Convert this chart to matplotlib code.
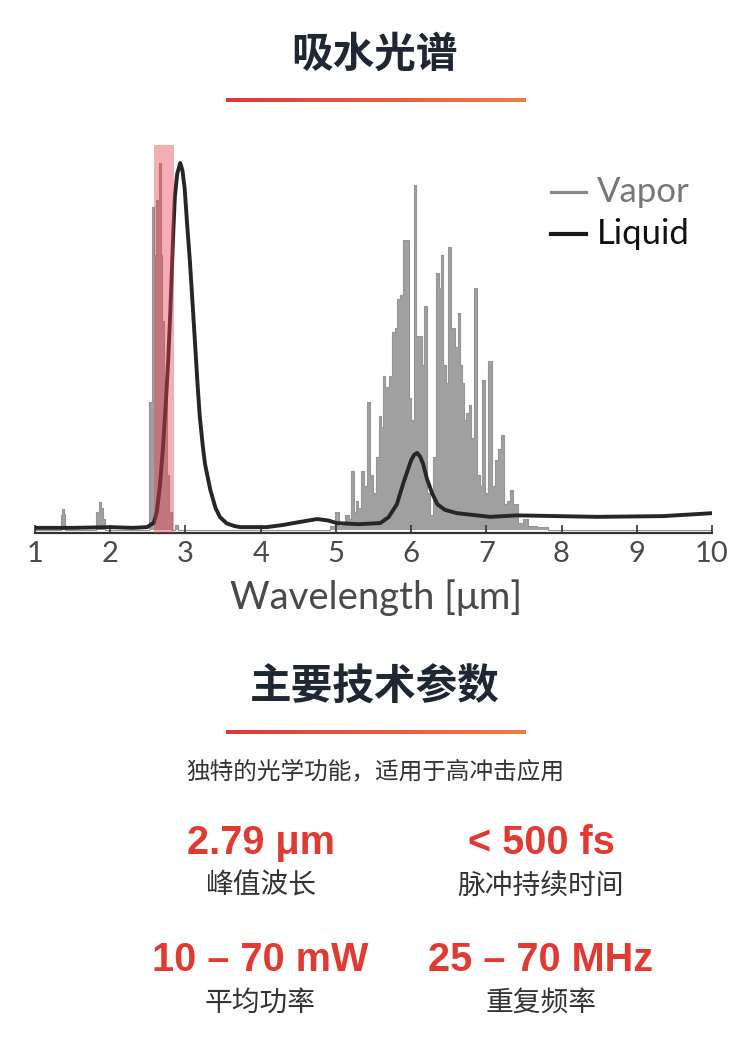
import numpy as np
import matplotlib
matplotlib.use("Agg")
import matplotlib.pyplot as plt
from matplotlib.colors import LinearSegmentedColormap

# liquid water absorption (normalised)
liquid_wl = [1.0, 1.5, 2.0, 2.3, 2.49, 2.58, 2.62, 2.66, 2.70, 2.74, 2.77, 2.80, 2.82,
             2.84, 2.86, 2.89, 2.93, 2.96, 2.99, 3.02, 3.06, 3.10, 3.13, 3.16, 3.19,
             3.23, 3.26, 3.30, 3.33, 3.40, 3.46, 3.55, 3.65, 3.73, 4.08, 4.30, 4.52,
             4.75, 4.90, 5.01, 5.30, 5.59, 5.70, 5.81, 5.90, 5.95, 6.00, 6.04, 6.08,
             6.12, 6.16, 6.21, 6.28, 6.35, 6.45, 6.61, 7.05, 7.41, 8.47, 9.35, 10.0]
liquid_abs = [0.006, 0.006, 0.008, 0.006, 0.008, 0.02, 0.05, 0.12, 0.22, 0.35, 0.46, 0.60, 0.71,
              0.82, 0.91, 0.97, 1.0, 0.98, 0.93, 0.84, 0.73, 0.60, 0.50, 0.40, 0.31,
              0.23, 0.18, 0.14, 0.11, 0.06, 0.035, 0.018, 0.011, 0.008, 0.008, 0.014, 0.022,
              0.030, 0.026, 0.019, 0.016, 0.019, 0.035, 0.07, 0.13, 0.16, 0.19, 0.205, 0.21,
              0.20, 0.18, 0.14, 0.10, 0.07, 0.055, 0.046, 0.036, 0.040, 0.036, 0.038, 0.046]

# water vapor absorption lines (normalised)
vapor_wl = [1.0, 1.33, 1.35, 1.37, 1.39, 1.41, 1.80, 1.83, 1.86, 1.89, 1.92, 1.95,
            2.50, 2.53, 2.57, 2.60, 2.63, 2.66, 2.68, 2.70, 2.73, 2.77, 2.80, 2.84, 2.88, 2.92, 2.96,
            4.90, 4.95, 5.02, 5.06, 5.10, 5.15, 5.19, 5.22, 5.25, 5.28, 5.32, 5.36, 5.40, 5.43, 5.47,
            5.52, 5.55, 5.59, 5.62, 5.64, 5.67, 5.69, 5.73, 5.76, 5.80, 5.83, 5.87, 5.91, 5.95,
            5.99, 6.02, 6.05, 6.09, 6.12, 6.16, 6.19, 6.23, 6.27, 6.31, 6.35, 6.39, 6.41, 6.45,
            6.48, 6.51, 6.54, 6.57, 6.61, 6.64, 6.67, 6.69, 6.72, 6.75, 6.78, 6.82, 6.86, 6.89,
            6.93, 6.96, 7.00, 7.05, 7.09, 7.14, 7.18, 7.21, 7.25, 7.29, 7.34, 7.38, 7.45, 7.52,
            7.60, 7.75, 7.90, 10.0]
vapor_abs = [0.0, 0.0, 0.04, 0.057, 0.045, 0.0, 0.0, 0.05, 0.076, 0.06, 0.03, 0.0,
             0.0, 0.35, 0.88, 0.75, 0.90, 1.0, 0.75, 0.57, 0.40, 0.15, 0.05, 0.0, 0.015, 0.0, 0.0,
             0.0, 0.01, 0.05, 0.01, 0.02, 0.04, 0.03, 0.16, 0.05, 0.08, 0.06, 0.16, 0.12, 0.35, 0.15,
             0.10, 0.20, 0.31, 0.28, 0.42, 0.39, 0.39, 0.42, 0.54, 0.55, 0.63, 0.64, 0.79, 0.79,
             0.36, 0.30, 0.94, 0.53, 0.53, 0.45, 0.61, 0.10, 0.04, 0.20, 0.70, 0.66, 0.75, 0.45,
             0.40, 0.77, 0.55, 0.55, 0.50, 0.59, 0.45, 0.40, 0.30, 0.32, 0.34, 0.25, 0.66, 0.15,
             0.12, 0.41, 0.10, 0.46, 0.12, 0.19, 0.22, 0.26, 0.07, 0.08, 0.11, 0.07, 0.02, 0.03,
             0.01, 0.008, 0.0, 0.0]

band = (2.58, 2.85)
xticks = [1, 2, 3, 4, 5, 6, 7, 8, 9, 10]

params = ["2.79 μm", "< 500 fs", "10 – 70 mW", "25 – 70 MHz"]
param_names = ["峰值波长", "脉冲持续时间", "平均功率", "重复频率"]

W, H = 750, 1042
fig = plt.figure(figsize=(7.5, 10.42), dpi=100)
cjk = ["Noto Sans CJK SC", "DejaVu Sans"]

def fy(py):
    return 1 - py / H

# headings
fig.text(375 / W, fy(55), "吸水光谱", family=cjk, weight="bold", fontsize=30,
         color="#1e2733", ha="center", va="center")
fig.text(375 / W, fy(688), "主要技术参数", family=cjk, weight="bold", fontsize=30,
         color="#1e2733", ha="center", va="center")

cmap = LinearSegmentedColormap.from_list("ul", ["#e0363a", "#f27b48"])
for py in [100, 732]:
    lax = fig.add_axes([226 / W, fy(py + 2), 300 / W, 4 / H])
    lax.imshow(np.linspace(0, 1, 256)[None, :], aspect="auto", cmap=cmap)
    lax.axis("off")

# spectrum
ax = fig.add_axes([35 / W, fy(533), 677 / W, 388 / H])
ax.axvspan(band[0], band[1], color="#e8404f", alpha=0.42, lw=0, zorder=3)
ax.fill_between(vapor_wl, vapor_abs, step="mid", color="#a0a0a0", lw=0, zorder=1)
ax.step(vapor_wl, vapor_abs, where="mid", color="#959595", lw=0.8, zorder=1)
ax.plot(liquid_wl, liquid_abs, color="#262626", lw=2.8, zorder=2, solid_capstyle="round")

ax.set_xlim(1, 10)
ax.set_ylim(-0.008, 1.049)
for s in ["top", "right", "left"]:
    ax.spines[s].set_visible(False)
ax.spines["bottom"].set_color("#333333")
ax.spines["bottom"].set_linewidth(1.6)
ax.set_yticks([])
ax.set_xticks(xticks)
ax.tick_params(axis="x", direction="in", length=6, width=1.2, color="#333333",
               labelsize=21, labelcolor="#4a4a4a", pad=6)
for lab in ax.get_xticklabels():
    lab.set_family("Lato")

fig.text(376 / W, fy(598), "Wavelength [μm]", family="Lato", fontsize=27.5,
         color="#4a4a4a", ha="center", va="center")

# legend
lg = fig.add_axes([0, 0, 1, 1], facecolor="none")
lg.set_xlim(0, W)
lg.set_ylim(H, 0)
lg.axis("off")
lg.plot([551, 586], [192, 192], color="#888888", lw=2.3)
lg.plot([551, 586], [234, 234], color="#1a1a1a", lw=3)
lg.text(597, 192, "Vapor", family="Lato", fontsize=25, color="#777777", va="center")
lg.text(597, 234, "Liquid", family="Lato", fontsize=25, color="#111111", va="center")

# parameters
fig.text(375 / W, fy(772), "独特的光学功能，适用于高冲击应用", family=cjk, fontsize=17,
         color="#333333", ha="center", va="center")
centers = [(261, 843), (541, 843), (260, 960), (541, 960)]
for (cx, cy), val, name in zip(centers, params, param_names):
    fig.text(cx / W, fy(cy), val, family="Liberation Sans", weight="bold", fontsize=28.5,
             color="#e03a33", ha="center", va="center")
    fig.text(cx / W, fy(cy + 43), name, family=cjk, fontsize=20,
             color="#333333", ha="center", va="center")

fig.savefig("out.png", dpi=100)
